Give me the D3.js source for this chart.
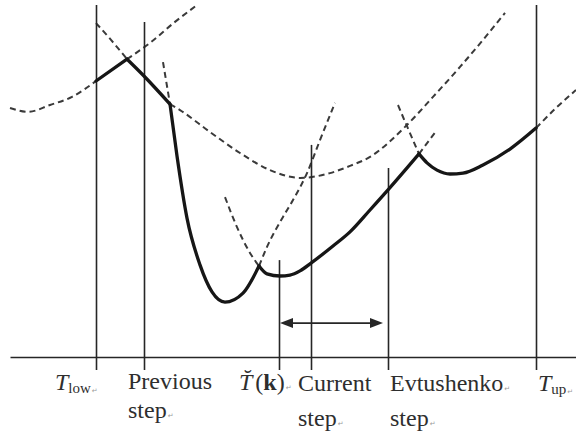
<!DOCTYPE html>
<html>
<head>
<meta charset="utf-8">
<script src="https://cdn.jsdelivr.net/npm/d3@7"></script>
<style>
  html, body { margin: 0; padding: 0; background: #fff; }
  svg { display: block; }
</style>
</head>
<body>
<svg id="chart" width="576" height="437"></svg>
<script>
// Minorant curves, sampled as [T, value] pairs
const curveA = [[2.5,83],[7,81.7],[12.5,84],[18,86.7],[24,92],[31.75,99.3],[37.5,104.7],[43.75,111.7],[49.25,117.3]];
const curveB = [[24,111.3],[27.75,105.7],[31.75,99.3],[35.75,94],[42.5,84.3],[45,82.3],[52.5,75],[60,68],[67.5,62.3],[75,59.7],[82.5,61.3],[87.5,63.7],[92.5,66.7],[101.25,76.7],[108.25,86.7],[115,96.7],[120.75,105.7],[126.25,114.7]];
const curveC = [[40.75,98.3],[42.5,84.3],[44.25,67],[46.75,46.3],[50,30.7],[53,21.7],[56.25,18.3],[60.75,21.3],[64.75,30.3],[66.75,36.7],[70.75,46.7],[73.25,52.3],[76.75,61.3],[80,72.3],[83.75,84.7]];
const curveD = [[56.25,53.3],[59.25,43.3],[62.5,34.7],[64.75,30.3],[66.75,27.7],[70,27],[72.5,27.3],[75,28.7],[77.75,31.3],[83.25,37],[87.5,41.7],[92.5,49],[97,55.7],[104.75,67.7],[109.25,75.7]];
const curveE = [[99.5,84],[101.5,77.7],[103.25,72.3],[104.75,67.7],[106.75,64.7],[109.25,62.3],[112.5,61],[115.75,61.3],[120.75,64],[127.5,69.3],[134,76.3],[139,83],[144,89]];

// Lower envelope: which curve is active between which T values
const envelope = [
  [curveA, 24, 31.75],
  [curveB, 31.75, 42.5],
  [curveC, 42.5, 64.75],
  [curveD, 64.75, 104.75],
  [curveE, 104.75, 134]
];

// Vertical markers on the T axis
const markerT   = [24, 36, 69.75, 77.75, 97, 134];
const markerTop = [117.3, 111.7, 32.3, 70.7, 63, 117.3];

// Step arrow between T~(k) and the Evtushenko step
const stepArrow = [70, 95.75];
const arrowLevel = 11.3;

const axisStart = 2.5;

const svg = d3.select("#chart");
const x = d3.scaleLinear().domain([0, 144]).range([0, 576]);
const y = d3.scaleLinear().domain([0, 119]).range([357, 0]);

const ink = "#262626";
const line = d3.line().x(d => x(d[0])).y(d => y(d[1])).curve(d3.curveMonotoneX);
const within = (pts, a, b) => pts.filter(p => p[0] >= a - 1e-9 && p[0] <= b + 1e-9);

// Dashed parts: every curve outside its envelope interval
const dashed = svg.append("g")
  .attr("fill", "none").attr("stroke", "#3a3a3a")
  .attr("stroke-width", 2).attr("stroke-dasharray", "6,4");
envelope.forEach(([pts, a, b]) => {
  const lo = pts[0][0], hi = pts[pts.length - 1][0];
  const left = within(pts, lo, a), right = within(pts, b, hi);
  if (left.length > 1) dashed.append("path").attr("d", line(left));
  if (right.length > 1) dashed.append("path").attr("d", line(right));
});

// Axis with downward ticks at the markers
const axisScale = x.copy().domain([axisStart, 144]).range([x(axisStart), x(144)]);
const axis = svg.append("g")
  .attr("transform", `translate(0,${y(0)})`)
  .call(d3.axisBottom(axisScale).tickValues(markerT).tickSize(13).tickSizeOuter(0).tickFormat(""));
axis.selectAll("path, line").attr("stroke", ink).attr("stroke-width", 1.6);

// Vertical markers above the axis
svg.append("g").selectAll("line").data(markerT).join("line")
  .attr("x1", d => Math.round(x(d)) + 0.5).attr("x2", d => Math.round(x(d)) + 0.5)
  .attr("y1", y(0)).attr("y2", (d, i) => y(markerTop[i]))
  .attr("stroke", ink).attr("stroke-width", 1.6);

// Envelope (thick solid)
const thick = svg.append("g")
  .attr("fill", "none").attr("stroke", "#161616")
  .attr("stroke-width", 3.3).attr("stroke-linecap", "round").attr("stroke-linejoin", "round");
envelope.forEach(([pts, a, b]) => {
  thick.append("path").attr("d", line(within(pts, a, b)));
});

// Double-headed arrow
const ay = y(arrowLevel), ax0 = x(stepArrow[0]), ax1 = x(stepArrow[1]);
const headL = 13, headW = 5;
svg.append("line").attr("x1", ax0 + 4).attr("x2", ax1 - 4).attr("y1", ay).attr("y2", ay)
  .attr("stroke", ink).attr("stroke-width", 1.6);
svg.append("path").attr("fill", ink)
  .attr("d", `M${ax0},${ay}L${ax0 + headL},${ay - headW}L${ax0 + headL},${ay + headW}Z`);
svg.append("path").attr("fill", ink)
  .attr("d", `M${ax1},${ay}L${ax1 - headL},${ay - headW}L${ax1 - headL},${ay + headW}Z`);

// Labels
const labels = svg.append("g")
  .attr("font-family", "'Liberation Serif', 'Times New Roman', serif")
  .attr("font-size", 24).attr("fill", "#2e2e2e");
const mark = (t) => t.append("tspan").attr("font-family", "DejaVu Sans").attr("font-size", 7)
  .attr("fill", "#9a9a9a").attr("dx", 1).text("\u21B5");

let t = labels.append("text").attr("x", x(markerT[0]) - 41).attr("y", 390);
t.append("tspan").attr("font-style", "italic").text("T");
t.append("tspan").attr("font-size", 15).attr("dy", 3).text("low");
mark(t);

labels.append("text").attr("x", x(markerT[1]) - 16).attr("y", 389).text("Previous");
t = labels.append("text").attr("x", x(markerT[1]) - 16).attr("y", 418).text("step");
mark(t);

// T with a combining breve, then (k)
t = labels.append("text").attr("x", x(markerT[2]) - 40).attr("y", 390);
t.append("tspan").attr("font-style", "italic").text("T\u0306");
t.append("tspan").attr("dx", 3).text("(");
t.append("tspan").attr("font-weight", "bold").text("k");
t.append("tspan").text(")");
mark(t);

labels.append("text").attr("x", x(markerT[3]) - 13).attr("y", 391).text("Current");
t = labels.append("text").attr("x", x(markerT[3]) - 13).attr("y", 426).text("step");
mark(t);

t = labels.append("text").attr("x", x(markerT[4]) + 2).attr("y", 391).text("Evtushenko");
mark(t);
t = labels.append("text").attr("x", x(markerT[4]) + 2).attr("y", 426).text("step");
mark(t);

t = labels.append("text").attr("x", x(markerT[5]) + 2).attr("y", 391);
t.append("tspan").attr("font-style", "italic").text("T");
t.append("tspan").attr("font-size", 15).attr("dy", 3).text("up");
mark(t);
</script>
</body>
</html>
